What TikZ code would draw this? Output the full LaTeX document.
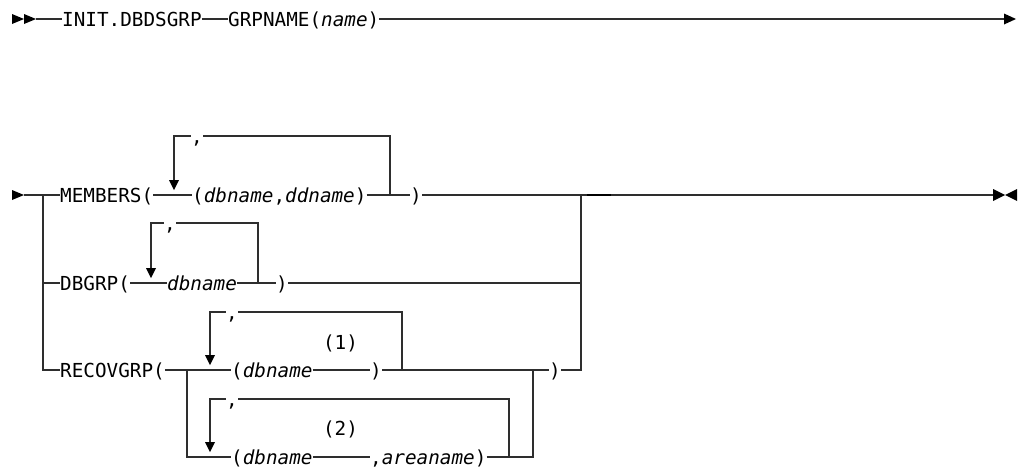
\documentclass[tikz,border=0pt]{standalone}
\usepackage{fontspec}
\setmainfont{DejaVu Sans Mono}
\newcommand{\dfs}{\fontsize{19.3}{23}\selectfont}
\begin{document}
\begin{tikzpicture}[x=1pt,y=-1pt,
  ln/.style={line width=1.2pt, draw=black!82},
  txt/.style={inner sep=0pt, anchor=base west, font=\dfs},
  ctxt/.style={inner sep=0pt, anchor=base, font=\dfs},
  tri/.style={fill=black}]
\useasboundingbox (0,0) rectangle (1021,469);

% ---------- row 1 ----------
\fill[tri] (12,14) -- (24,19) -- (12,24) -- cycle;
\fill[tri] (24,14) -- (36,19) -- (24,24) -- cycle;
\coordinate (s1) at (36,19);
\node[txt] (init) at (62,26) {INIT.DBDSGRP};
\node[txt] (grp) at (228,26) {GRPNAME(\textit{name})};
\coordinate (e1) at (1004,19);
\draw[ln] (s1) -- (init.west |- s1);
\draw[ln] (init.east |- s1) -- (grp.west |- s1);
\draw[ln] (grp.east |- s1) -- (e1);
\fill[tri] (1004,13.5) -- (1016,19) -- (1004,24.5) -- cycle;

% ---------- MEMBERS row ----------
\fill[tri] (12,190) -- (24,195) -- (12,200) -- cycle;
\coordinate (s2) at (24,195);
\node[txt] (mem) at (60,202) {MEMBERS(};
\node[txt] (mdd) at (192,202) {(\textit{dbname},\textit{ddname})};
\node[txt] (mcl) at (410,202) {)};
\coordinate (c1) at (581,195);
\coordinate (fin) at (993,195);
\draw[ln] (s2) -- (mem.west |- s2);
\draw[ln] (mem.east |- s2) -- (mdd.west |- s2);
\draw[ln] (mdd.east |- s2) -- (mcl.west |- s2);
\draw[ln] (mcl.east |- s2) -- (fin);
\draw[line width=2.2pt, draw=black] (587,195) -- (611,195);
% loop
\coordinate (lt1) at (174,136);
\coordinate (la1) at (174,181);
\coordinate (rt1) at (390,136);
\coordinate (rb1) at (390,195);
\node[txt] (cm1) at (191,143) {,};
\draw[ln] (la1) -- (lt1) -- (cm1.west |- lt1);
\draw[ln] (cm1.east |- lt1) -- (rt1) -- (rb1);
\fill[tri] (169,180) -- (179,180) -- (174,190) -- cycle;
% end marker
\fill[tri] (993,189) -- (1005,195) -- (993,201) -- cycle;
\fill[tri] (1017,189) -- (1005,195) -- (1017,201) -- cycle;

% ---------- DBGRP row ----------
\coordinate (b1) at (43,195);
\coordinate (b2) at (43,283);
\node[txt] (dbg) at (60,290) {DBGRP(};
\node[txt] (dbn) at (167,290) {\textit{dbname}};
\node[txt] (dcl) at (276,290) {)};
\coordinate (c2) at (581,283);
\draw[ln] (b2) -- (dbg.west |- b2);
\draw[ln] (dbg.east |- b2) -- (dbn.west |- b2);
\draw[ln] (dbn.east |- b2) -- (dcl.west |- b2);
\draw[ln] (dcl.east |- b2) -- (c2);
\coordinate (lt2) at (151,223);
\coordinate (la2) at (151,269);
\coordinate (rt2) at (258,223);
\coordinate (rb2) at (258,283);
\node[txt] (cm2) at (164,230) {,};
\draw[ln] (la2) -- (lt2) -- (cm2.west |- lt2);
\draw[ln] (cm2.east |- lt2) -- (rt2) -- (rb2);
\fill[tri] (146,268) -- (156,268) -- (151,278) -- cycle;

% ---------- RECOVGRP row ----------
\coordinate (b3) at (43,370);
\node[txt] (rec) at (60,377) {RECOVGRP(};
\coordinate (b4) at (187,370);
\node[txt] (r1a) at (231,377) {(\textit{dbname}};
\node[txt] (r1b) at (370,377) {)};
\node[ctxt] (n1) at (340.5,349) {(1)};
\coordinate (j1) at (533,370);
\node[txt] (rcl) at (549,377) {)};
\coordinate (c3) at (581,370);
\draw[ln] (b1) -- (b3) -- (rec.west |- b3);
\draw[ln] (rec.east |- b3) -- (r1a.west |- b3);
\draw[ln] (r1a.east |- b3) -- (r1b.west |- b3);
\draw[ln] (r1b.east |- b3) -- (rcl.west |- b3);
\draw[ln] (rcl.east |- b3) -- (c3) -- (c1);
\coordinate (lt3) at (210,312);
\coordinate (la3) at (210,356);
\coordinate (rt3) at (402,312);
\coordinate (rb3) at (402,370);
\node[txt] (cm3) at (226,319) {,};
\draw[ln] (la3) -- (lt3) -- (cm3.west |- lt3);
\draw[ln] (cm3.east |- lt3) -- (rt3) -- (rb3);
\fill[tri] (205,355) -- (215,355) -- (210,365) -- cycle;

% ---------- bottom alternative ----------
\coordinate (b5) at (187,457);
\node[txt] (r2a) at (231,464) {(\textit{dbname}};
\node[txt] (r2b) at (370,464) {,\textit{areaname})};
\node[ctxt] (n2) at (340.5,435) {(2)};
\coordinate (j2) at (533,457);
\draw[ln] (b4) -- (b5) -- (r2a.west |- b5);
\draw[ln] (r2a.east |- b5) -- (r2b.west |- b5);
\draw[ln] (r2b.east |- b5) -- (j2) -- (j1);
\coordinate (lt4) at (210,399);
\coordinate (la4) at (210,443);
\coordinate (rt4) at (509,399);
\coordinate (rb4) at (509,457);
\node[txt] (cm4) at (226,406) {,};
\draw[ln] (la4) -- (lt4) -- (cm4.west |- lt4);
\draw[ln] (cm4.east |- lt4) -- (rt4) -- (rb4);
\fill[tri] (205,442) -- (215,442) -- (210,452) -- cycle;
\end{tikzpicture}
\end{document}
